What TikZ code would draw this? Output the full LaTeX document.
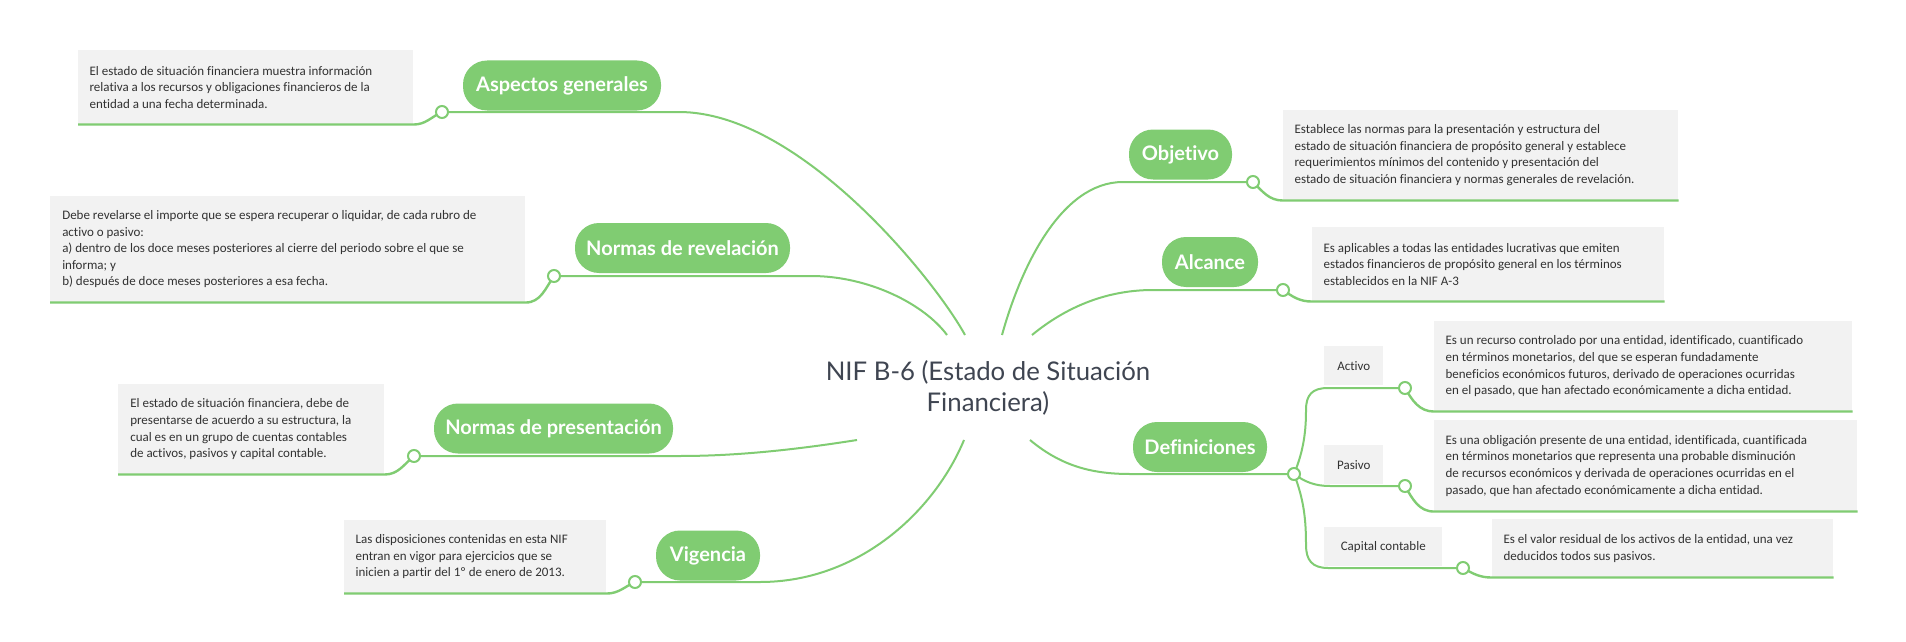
\documentclass[tikz,border=0pt]{standalone}
\usepackage{fontspec}
\setmainfont{Carlito}[Ligatures=NoCommon]
\newfontfamily\latofont{Lato}[Ligatures=NoCommon]
\definecolor{mmgreen}{RGB}{128,204,114}
\definecolor{boxgray}{RGB}{242,242,242}
\definecolor{txtgray}{RGB}{50,50,50}
\definecolor{titlegray}{RGB}{63,69,81}
\begin{document}
\begin{tikzpicture}[x=0.75pt,y=-0.75pt,
  conn/.style={draw=mmgreen, line width=1.5pt},
  uline/.style={draw=mmgreen, line width=1.8pt},
  pill/.style={fill=mmgreen, text=white, font=\latofont\bfseries\fontsize{15}{18}\selectfont,
    rounded corners=18pt, minimum height=37.5pt, inner xsep=0pt, anchor=center},
  descbox/.style={fill=boxgray, inner sep=0pt, anchor=north west},
  desctext/.style={align=left, inner sep=0pt, text=txtgray, anchor=west,
    font=\fontsize{9.75}{12.4}\selectfont},
  labbox/.style={fill=boxgray, inner sep=0pt, anchor=north west, text=txtgray,
    font=\fontsize{9.75}{12.4}\selectfont},
  dot/.style={circle, draw=mmgreen, fill=white, line width=1.5pt, minimum size=9pt, inner sep=0pt},
  titlenode/.style={align=center, text=titlegray, font=\latofont\fontsize{19.3}{23.25}\selectfont}
]
\useasboundingbox[fill=white] (0,0) rectangle (1906,642);

% root
\node[titlenode] (root) at (988,388) {NIF B-6 (Estado de Situación\\Financiera)};

% description boxes
\node[descbox, minimum width=335*0.75pt, minimum height=74*0.75pt] (agbox) at (78,50) {};
\node[descbox, minimum width=475*0.75pt, minimum height=106*0.75pt] (nrbox) at (50,196) {};
\node[descbox, minimum width=266*0.75pt, minimum height=90*0.75pt] (npbox) at (118,384) {};
\node[descbox, minimum width=262*0.75pt, minimum height=73*0.75pt] (vgbox) at (344,520) {};
\node[descbox, minimum width=395*0.75pt, minimum height=90*0.75pt] (objbox) at (1283,110) {};
\node[descbox, minimum width=352*0.75pt, minimum height=74*0.75pt] (alcbox) at (1312,227) {};
\node[descbox, minimum width=418*0.75pt, minimum height=90*0.75pt] (actbox) at (1434,321) {};
\node[descbox, minimum width=423*0.75pt, minimum height=91*0.75pt] (pasbox) at (1434,420) {};
\node[descbox, minimum width=341*0.75pt, minimum height=58*0.75pt] (capbox) at (1492,519) {};

\node[desctext] (agtxt) at ([xshift=8.5pt]agbox.west) {El estado de situación financiera muestra información\\relativa a los recursos y obligaciones financieros de la\\entidad a una fecha determinada.};
\node[desctext] (nrtxt) at ([xshift=9pt]nrbox.west) {Debe revelarse el importe que se espera recuperar o liquidar, de cada rubro de\\activo o pasivo:\\a) dentro de los doce meses posteriores al cierre del periodo sobre el que se\\informa; y\\b) después de doce meses posteriores a esa fecha.};
\node[desctext] (nptxt) at ([xshift=9pt]npbox.west) {El estado de situación financiera, debe de\\presentarse de acuerdo a su estructura, la\\cual es en un grupo de cuentas contables\\de activos, pasivos y capital contable.};
\node[desctext] (vgtxt) at ([xshift=8.5pt]vgbox.west) {Las disposiciones contenidas en esta NIF\\entran en vigor para ejercicios que se\\inicien a partir del 1º de enero de 2013.};
\node[desctext] (objtxt) at ([xshift=8.5pt]objbox.west) {Establece las normas para la presentación y estructura del\\estado de situación financiera de propósito general y establece\\requerimientos mínimos del contenido y presentación del\\estado de situación financiera y normas generales de revelación.};
\node[desctext] (alctxt) at ([xshift=8.5pt]alcbox.west) {Es aplicables a todas las entidades lucrativas que emiten\\estados financieros de propósito general en los términos\\establecidos en la NIF A-3};
\node[desctext] (acttxt) at ([xshift=8.5pt]actbox.west) {Es un recurso controlado por una entidad, identificado, cuantificado\\en términos monetarios, del que se esperan fundadamente\\beneficios económicos futuros, derivado de operaciones ocurridas\\en el pasado, que han afectado económicamente a dicha entidad.};
\node[desctext] (pastxt) at ([xshift=8.5pt]pasbox.west) {Es una obligación presente de una entidad, identificada, cuantificada\\en términos monetarios que representa una probable disminución\\de recursos económicos y derivada de operaciones ocurridas en el\\pasado, que han afectado económicamente a dicha entidad.};
\node[desctext] (captxt) at ([xshift=8.5pt]capbox.west) {Es el valor residual de los activos de la entidad, una vez\\deducidos todos sus pasivos.};

% label boxes
\node[labbox, minimum width=59*0.75pt, minimum height=39*0.75pt] (actlab) at (1324,346) {Activo};
\node[labbox, minimum width=59*0.75pt, minimum height=39*0.75pt] (paslab) at (1324,445) {Pasivo};
\node[labbox, minimum width=118*0.75pt, minimum height=39*0.75pt] (caplab) at (1324,527) {Capital contable};

% pills
\node[pill, minimum width=198*0.75pt] (ag) at (562,85.5) {Aspectos generales};
\node[pill, minimum width=215*0.75pt] (nr) at (682.5,248) {Normas de revelación};
\node[pill, minimum width=239*0.75pt] (np) at (553.5,428.5) {Normas de presentación};
\node[pill, minimum width=104*0.75pt] (vg) at (708,555.5) {Vigencia};
\node[pill, minimum width=103*0.75pt] (obj) at (1180.5,154.5) {Objetivo};
\node[pill, minimum width=96*0.75pt] (alc) at (1210,262) {Alcance};
\node[pill, minimum width=134*0.75pt] (def) at (1200,447) {Definiciones};

% connector anchor points
\coordinate (agstart) at (965,335);
\coordinate (nrstart) at (947,335);
\coordinate (objstart) at (1002,335);
\coordinate (alcstart) at (1032,335);
\coordinate (npstart) at (857,440);
\coordinate (vgstart) at (964,440);
\coordinate (defstart) at (1030,440);
\coordinate (agc) at (442,112);
\coordinate (nrc) at (554,276);
\coordinate (npc) at (414,456);
\coordinate (vgc) at (635,582);
\coordinate (objc) at (1253,182);
\coordinate (alcc) at (1283,290);
\coordinate (defc) at (1294,474);
\coordinate (actc) at (1405,388);
\coordinate (pasc) at (1405,486);
\coordinate (capc) at (1463,568);

% main connectors
\draw[conn] (agstart) .. controls (935,280) and (800,112) .. (679,112) -- (agc);
\draw[conn] (nrstart) .. controls (925,305) and (870,276) .. (811,276) -- (nrc);
\draw[conn] (npstart) .. controls (800,449) and (740,456) .. (680,456) -- (npc);
\draw[conn] (vgstart) .. controls (935,510) and (860,582) .. (760,582) -- (vgc);
\draw[conn] (objstart) .. controls (1020,270) and (1060,182) .. (1123,182) -- (objc);
\draw[conn] (alcstart) .. controls (1060,312) and (1100,290) .. (1153,290) -- (alcc);
\draw[conn] (defstart) .. controls (1060,465) and (1090,474) .. (1130,474) -- (defc);

% definiciones sub-branches
\draw[conn] (defc) .. controls (1304,450) and (1306,430) .. (1306,410) .. controls (1306,395) and (1312,388) .. (1328,388) -- (actc);
\draw[conn] (defc) .. controls (1305,482) and (1315,486) .. (1330,486) -- (pasc);
\draw[conn] (defc) .. controls (1304,500) and (1306,520) .. (1306,545) .. controls (1306,560) and (1312,568) .. (1328,568) -- (capc);

% underlines
\draw[uline] (agc) to[out=205,in=0] (agbox.south east) -- (agbox.south west);
\draw[uline] (nrc) to[out=235,in=0] (nrbox.south east) -- (nrbox.south west);
\draw[uline] (npc) to[out=220,in=0] (npbox.south east) -- (npbox.south west);
\draw[uline] (vgc) to[out=205,in=0] (vgbox.south east) -- (vgbox.south west);
\draw[uline] (objc) to[out=-45,in=180] (objbox.south west) -- (objbox.south east);
\draw[uline] (alcc) to[out=-35,in=180] (alcbox.south west) -- (alcbox.south east);
\draw[uline] (actc) to[out=-60,in=180] (actbox.south west) -- (actbox.south east);
\draw[uline] (pasc) to[out=-60,in=180] (pasbox.south west) -- (pasbox.south east);
\draw[uline] (capc) to[out=-30,in=180] (capbox.south west) -- (capbox.south east);

% dots
\foreach \d in {agc,nrc,npc,vgc,objc,alcc,defc,actc,pasc,capc}
  \node[dot] (\d dot) at (\d) {};
\end{tikzpicture}
\end{document}
